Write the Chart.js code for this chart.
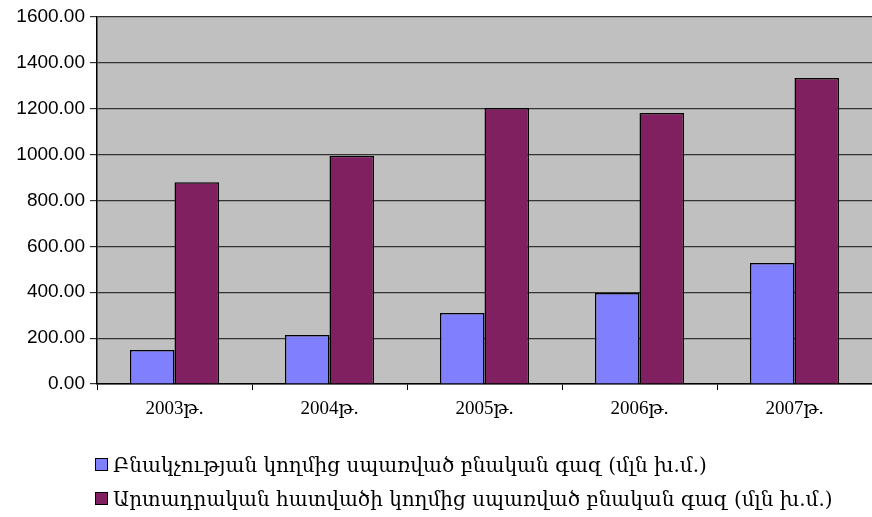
<!DOCTYPE html>
<html lang="hy">
<head>
    <meta charset="UTF-8">
    <title>Բնական գազի սպառումը</title>
    <script src="https://cdn.jsdelivr.net/npm/chart.js"></script>
    <style>
        body { margin: 0; background: #fff; }
        #wrap { position: relative; width: 872px; height: 517px; }
        #legend { position: absolute; left: 95px; top: 450px; font-family: 'DejaVu Serif', 'Liberation Serif', serif; font-size: 20px; color: #000; }
        #legend div { height: 34px; line-height: 30px; white-space: nowrap; }
        #legend span.box { display: inline-block; width: 11px; height: 11px; border: 1px solid #000; margin-right: 5px; vertical-align: 1px; }
    </style>
</head>
<body>
    <div id="wrap">
        <canvas id="myChart" width="872" height="517"></canvas>
        <div id="legend"></div>
    </div>
    <script>
        const years = ['2003թ.', '2004թ.', '2005թ.', '2006թ.', '2007թ.'];
        const population = [148, 214, 310, 397, 527];
        const industry = [880, 995, 1203, 1181, 1334];
        const seriesNames = [
            'Բնակչության կողմից սպառված բնական գազ (մլն խ.մ.)',
            'Արտադրական հատվածի կողմից սպառված բնական գազ (մլն խ.մ.)'
        ];
        const colors = ['#8080FF', '#802060'];

        const plotBg = {
            id: 'plotBg',
            beforeDraw(chart) {
                const { ctx, chartArea: a } = chart;
                ctx.save();
                ctx.fillStyle = '#C0C0C0';
                ctx.fillRect(a.left, a.top, a.right - a.left, a.bottom - a.top);
                ctx.restore();
            }
        };

        new Chart(document.getElementById('myChart'), {
            type: 'bar',
            data: {
                labels: years,
                datasets: [population, industry].map((d, i) => ({
                    label: seriesNames[i],
                    data: d,
                    backgroundColor: colors[i],
                    borderColor: '#000',
                    borderWidth: 1.5,
                    categoryPercentage: 0.575,
                    barPercentage: 1
                }))
            },
            options: {
                responsive: false,
                animation: false,
                layout: { padding: { top: 17, right: 0, left: 0, bottom: 0 } },
                plugins: { legend: { display: false }, tooltip: { enabled: false } },
                scales: {
                    x: {
                        offset: true,
                        afterFit: s => { s.height = 133; },
                        grid: { offset: true, drawOnChartArea: false, drawTicks: true, tickLength: 6, color: '#000' },
                        border: { color: '#000', width: 1.5 },
                        ticks: { color: '#000', padding: 8, font: { family: "'Liberation Serif', 'DejaVu Serif', serif", size: 19 } }
                    },
                    y: {
                        min: 0,
                        max: 1600,
                        afterFit: s => { s.width = 97; },
                        grid: { color: '#333', lineWidth: 1.2, tickLength: 7 },
                        border: { color: '#000', width: 1.5 },
                        ticks: {
                            stepSize: 200,
                            color: '#000',
                            padding: 5,
                            font: { family: "'Liberation Sans', Arial, sans-serif", size: 19 },
                            callback: v => v.toFixed(2)
                        }
                    }
                }
            },
            plugins: [plotBg]
        });

        const legend = document.getElementById('legend');
        seriesNames.forEach((name, i) => {
            const row = document.createElement('div');
            row.innerHTML = '<span class="box" style="background:' + colors[i] + '"></span>' + name;
            legend.appendChild(row);
        });
    </script>
</body>
</html>
